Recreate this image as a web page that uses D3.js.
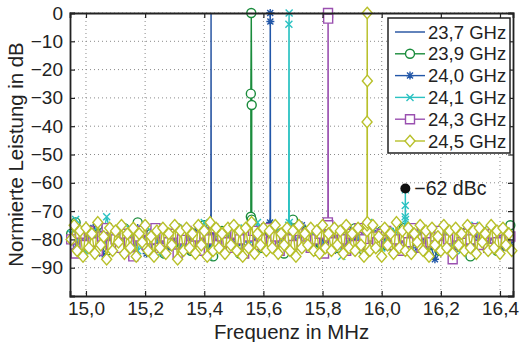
<!DOCTYPE html>
<html>
<head>
<meta charset="utf-8">
<script src="https://cdn.jsdelivr.net/npm/d3@7"></script>
<style>
  body { margin: 0; background: #fff; }
  svg { font-family: "Liberation Sans", Arial, sans-serif; }
</style>
</head>
<body>
<div id="chart"></div>
<script>
// frequency grid of the noise samples (MHz)
const freqStart = 14.95;
const freqStep = 0.015;
const freqStepFine = 0.01;

const seriesNames = ['23,7 GHz', '23,9 GHz', '24,0 GHz', '24,1 GHz', '24,3 GHz', '24,5 GHz'];

// noise floor per series (dB)
const noise237 = [-79,-82,-77,-84,-80,-76,-83,-79,-81,-85,-78,-80,-76,-82,-84,-79,-77,-81,-83,-78,-80,-85,-77,-79,-82,-76,-80,-84,-78,-81,-79,-77,-83,-80,-76,-82,-79,-85,-78,-80,-77,-83,-81,-75,-79,-84,-80,-78,-82,-76,-80,-83,-79,-77,-81,-85,-78,-80,-76,-82,-79,-84,-77,-80,-78,-83,-81,-76,-79,-82,-80,-77,-84,-79,-81,-76,-80,-83,-78,-82,-79,-77,-81,-85,-78,-80,-76,-82,-79,-84,-77,-80,-78,-83,-81,-76,-79,-82,-80,-78];
const noise239 = [-78,-74,-80,-83,-77,-81,-75,-79,-84,-78,-80,-82,-76,-81,-79,-74,-80,-83,-78,-77,-81,-85,-79,-80,-76,-82,-79,-84,-78,-80,-75,-81,-86,-79,-77,-82,-80,-78,-85,-79,-81,-77,-80,-83,-76,-79,-82,-78,-85,-80,-73,-79,-82,-77,-80,-84,-78,-75,-81,-80,-83,-77,-79,-82,-76,-80,-84,-78,-81,-79,-77,-82,-80,-84,-78,-76,-81,-79,-83,-80,-77,-82,-79,-84,-78,-81,-80,-77,-83,-79,-86,-80,-78,-82,-77,-80,-84,-79,-81,-75];
const noise240 = [-80,-84,-78,-82,-79,-76,-81,-85,-79,-80,-77,-83,-80,-78,-82,-76,-80,-85,-79,-81,-77,-80,-83,-78,-80,-82,-79,-84,-77,-80,-76,-82,-79,-81,-78,-84,-80,-77,-81,-79,-83,-78,-80,-76,-82,-80,-79,-84,-78,-80,-81,-77,-75,-80,-83,-79,-76,-81,-80,-84,-78,-82,-79,-77,-81,-80,-83,-78,-76,-80,-82,-79,-77,-84,-80,-78,-81,-79,-83,-77,-80,-82,-87,-79,-81,-78,-80,-83,-79,-77,-81,-84,-80,-78,-82,-79,-80,-83,-78,-81];
const noise241 = [-78,-73,-81,-84,-79,-77,-82,-80,-72,-79,-83,-78,-81,-76,-80,-84,-79,-82,-77,-80,-85,-78,-81,-79,-76,-83,-80,-78,-82,-79,-74,-86,-80,-77,-81,-79,-83,-78,-80,-76,-82,-79,-74,-81,-80,-83,-78,-77,-81,-79,-84,-80,-78,-82,-79,-76,-80,-83,-78,-81,-79,-86,-80,-77,-82,-79,-80,-74,-81,-78,-83,-80,-79,-77,-82,-80,-78,-81,-76,-80,-83,-79,-81,-78,-80,-77,-82,-79,-84,-78,-80,-75,-81,-79,-83,-78,-80,-82,-77,-79];
const noise243 = [-80,-85,-78,-82,-77,-81,-84,-79,-76,-82,-80,-83,-78,-81,-86,-79,-77,-82,-80,-76,-83,-79,-81,-78,-85,-80,-77,-82,-79,-84,-78,-80,-76,-82,-79,-81,-83,-78,-80,-85,-79,-77,-82,-80,-76,-81,-79,-84,-78,-80,-82,-77,-81,-79,-83,-80,-78,-85,-79,-81,-77,-80,-84,-78,-82,-76,-80,-83,-79,-81,-78,-77,-82,-80,-84,-79,-81,-76,-80,-83,-78,-81,-79,-77,-82,-80,-87,-79,-81,-78,-80,-76,-82,-79,-83,-78,-81,-77,-80,-79];
// 24,5 GHz is sampled on the finer grid
const noise245 = [
  -80,-75,-84,-77,-86,-76,-83,-78,-85,-74,
  -82,-79,-87,-76,-84,-77,-81,-75,-85,-78,
  -83,-76,-86,-78,-81,-75,-84,-79,-86,-77,
  -83,-76,-85,-78,-82,-75,-87,-77,-84,-76,
  -83,-78,-85,-75,-82,-77,-86,-74,-84,-76,
  -83,-78,-85,-76,-82,-75,-84,-77,-86,-76,
  -83,-74,-85,-78,-82,-76,-84,-77,-83,-75,
  -85,-78,-82,-76,-84,-77,-86,-75,-83,-78,
  -82,-76,-84,-77,-85,-75,-83,-78,-84,-76,
  -82,-77,-85,-75,-83,-78,-84,-76,-82,-86,
  -77,-84,-75,-83,-79,-86,-76,-82,-78,-85,
  -74,-83,-77,-84,-76,-85,-78,-81,-75,-84,
  -77,-86,-76,-82,-79,-84,-75,-83,-77,-85,
  -76,-82,-78,-84,-75,-83,-77,-85,-76,-81,
  -78,-84,-75,-83,-77,-85,-76,-82,-78,-84];

// carrier peaks [MHz, dB]
const peak237 = [[15.4225, -71], [15.423, 0], [15.4235, -72]];
const peak239 = [[15.5575, -72], [15.5575, -28.5], [15.559, 0], [15.5605, -32.5], [15.5605, -73]];
const peak240 = [[15.6225, -74], [15.623, 0], [15.6235, -3], [15.624, -75]];
const peak241 = [[15.6855, -75], [15.6862, -4], [15.687, 0], [15.6875, -74],
                 [16.0795, -72], [16.0797, -68], [16.08, -62.5], [16.0805, -73]];
const peak243 = [[15.818, -74], [15.8185, 0], [15.819, -2], [15.8195, -75]];
const peak245 = [[15.9505, -75], [15.9505, -38.5], [15.951, 0], [15.9515, -24], [15.9515, -74]];

const spurFreq = 16.08;
const spurLevel = -62;
const spurLabel = '\u221262 dBc';

const xTicks = [15.0, 15.2, 15.4, 15.6, 15.8, 16.0, 16.2, 16.4];
const yTicks = [-90, -80, -70, -60, -50, -40, -30, -20, -10, 0];

const colors = ['#1f4e9e', '#1a8c3c', '#2257a8', '#2bc2c2', '#9a50b0', '#b8c02a'];
const markers = ['none', 'circle', 'asterisk', 'times', 'square', 'diamond'];

const width = 520, height = 342;
const margin = {top: 13, right: 7, bottom: 46, left: 70};
const innerW = width - margin.left - margin.right;
const innerH = height - margin.top - margin.bottom;
const tickFont = 19;
const labelFont = 20.4;
const legendFont = 18.5;
const ink = '#222';

function buildSeries(noise, peaks, step) {
  const pts = noise.map((v, i) => [freqStart + i * step, v]);
  return pts.concat(peaks).sort((a, b) => a[0] - b[0]);
}
const allSeries = [
  buildSeries(noise237, peak237, freqStep),
  buildSeries(noise239, peak239, freqStep),
  buildSeries(noise240, peak240, freqStep),
  buildSeries(noise241, peak241, freqStep),
  buildSeries(noise243, peak243, freqStep),
  buildSeries(noise245, peak245, freqStepFine)
];

function markerPath(type) {
  const p = d3.path();
  if (type === 'circle') {
    p.moveTo(4.5, 0); p.arc(0, 0, 4.5, 0, 2 * Math.PI);
  } else if (type === 'square') {
    p.rect(-4.5, -4.5, 9, 9);
  } else if (type === 'diamond') {
    p.moveTo(0, -5.8); p.lineTo(5, 0); p.lineTo(0, 5.8); p.lineTo(-5, 0); p.closePath();
  } else if (type === 'times') {
    p.moveTo(-3.5, -3.5); p.lineTo(3.5, 3.5); p.moveTo(-3.5, 3.5); p.lineTo(3.5, -3.5);
  } else if (type === 'asterisk') {
    p.moveTo(-4, 0); p.lineTo(4, 0); p.moveTo(0, -4); p.lineTo(0, 4);
    p.moveTo(-3, -3); p.lineTo(3, 3); p.moveTo(-3, 3); p.lineTo(3, -3);
  }
  return p.toString();
}

const fmt = d3.formatLocale({decimal: ',', thousands: '.', grouping: [3], currency: ['', ''], minus: '\u2212'});
const xFmt = fmt.format('.1f');
const yFmt = fmt.format('d');

const svg = d3.select('#chart').append('svg')
  .attr('width', width)
  .attr('height', height);

const g = svg.append('g')
  .attr('transform', `translate(${margin.left},${margin.top})`);

const x = d3.scaleLinear().domain([14.946, 16.444]).range([0, innerW]);
const y = d3.scaleLinear().domain([-100, 0]).range([innerH, 0]);

// grid
g.append('g').selectAll('line').data(xTicks).join('line')
  .attr('x1', d => x(d)).attr('x2', d => x(d))
  .attr('y1', 0).attr('y2', innerH)
  .attr('stroke', '#8a8a8a').attr('stroke-width', 1).attr('stroke-dasharray', '1,3');
g.append('g').selectAll('line').data(yTicks).join('line')
  .attr('x1', 0).attr('x2', innerW)
  .attr('y1', d => y(d)).attr('y2', d => y(d))
  .attr('stroke', '#8a8a8a').attr('stroke-width', 1).attr('stroke-dasharray', '1,3');

// series
const line = d3.line().x(d => x(d[0])).y(d => y(d[1]));
allSeries.forEach((data, i) => {
  const sg = g.append('g');
  sg.append('path')
    .datum(data)
    .attr('fill', 'none')
    .attr('stroke', colors[i])
    .attr('stroke-width', 1.4)
    .attr('d', line);
  if (markers[i] !== 'none') {
    sg.selectAll('path.m').data(data).join('path')
      .attr('class', 'm')
      .attr('transform', d => `translate(${x(d[0])},${y(d[1])})`)
      .attr('d', markerPath(markers[i]))
      .attr('fill', (markers[i] === 'times' || markers[i] === 'asterisk') ? 'none' : '#fff')
      .attr('stroke', colors[i])
      .attr('stroke-width', 1.4);
  }
});

// axes (ticks inward on all four sides)
const axisBottom = g.append('g')
  .attr('transform', `translate(0,${innerH})`)
  .call(d3.axisBottom(x).tickValues(xTicks).tickSize(-5).tickPadding(6).tickFormat(xFmt));
const axisTop = g.append('g')
  .call(d3.axisTop(x).tickValues(xTicks).tickSize(-5).tickFormat(''));
const axisLeft = g.append('g')
  .call(d3.axisLeft(y).tickValues(yTicks).tickSize(-5).tickPadding(7).tickFormat(yFmt));
const axisRight = g.append('g')
  .attr('transform', `translate(${innerW},0)`)
  .call(d3.axisRight(y).tickValues(yTicks).tickSize(-5).tickFormat(''));

[axisBottom, axisTop, axisLeft, axisRight].forEach(a => {
  a.select('.domain').attr('stroke', ink).attr('stroke-width', 1.8);
  a.selectAll('.tick line').attr('stroke', ink).attr('stroke-width', 1.2);
  a.selectAll('.tick text').attr('fill', ink).style('font-size', tickFont + 'px')
    .style('font-family', '"Liberation Sans", Arial, sans-serif');
});

// annotation
g.append('circle')
  .attr('cx', x(spurFreq)).attr('cy', y(spurLevel)).attr('r', 5)
  .attr('fill', '#111');
g.append('text')
  .attr('x', x(spurFreq) + 9).attr('y', y(spurLevel) + 7)
  .attr('fill', ink).style('font-size', '19.5px')
  .text(spurLabel);

// legend
const legend = svg.append('g').attr('transform', 'translate(388,18)');
legend.append('rect')
  .attr('width', 122).attr('height', 135)
  .attr('fill', '#fff').attr('stroke', ink).attr('stroke-width', 1.5);
seriesNames.forEach((name, i) => {
  const row = legend.append('g').attr('transform', `translate(0,${14 + i * 21.8})`);
  row.append('line')
    .attr('x1', 7).attr('x2', 37).attr('y1', 0).attr('y2', 0)
    .attr('stroke', colors[i]).attr('stroke-width', 1.4);
  if (markers[i] !== 'none') {
    row.append('path')
      .attr('transform', 'translate(22,0)')
      .attr('d', markerPath(markers[i]))
      .attr('fill', (markers[i] === 'times' || markers[i] === 'asterisk') ? 'none' : '#fff')
      .attr('stroke', colors[i]).attr('stroke-width', 1.4);
  }
  row.append('text')
    .attr('x', 40).attr('y', 6.5)
    .attr('fill', ink).style('font-size', legendFont + 'px')
    .text(name);
});

// axis titles
svg.append('text')
  .attr('x', margin.left + innerW / 2).attr('y', 338.5)
  .attr('text-anchor', 'middle')
  .attr('fill', ink).style('font-size', labelFont + 'px')
  .text('Frequenz in MHz');
svg.append('text')
  .attr('transform', `translate(23,${margin.top + innerH / 2}) rotate(-90)`)
  .attr('text-anchor', 'middle')
  .attr('fill', ink).style('font-size', labelFont + 'px')
  .text('Normierte Leistung in dB');
</script>
</body>
</html>
